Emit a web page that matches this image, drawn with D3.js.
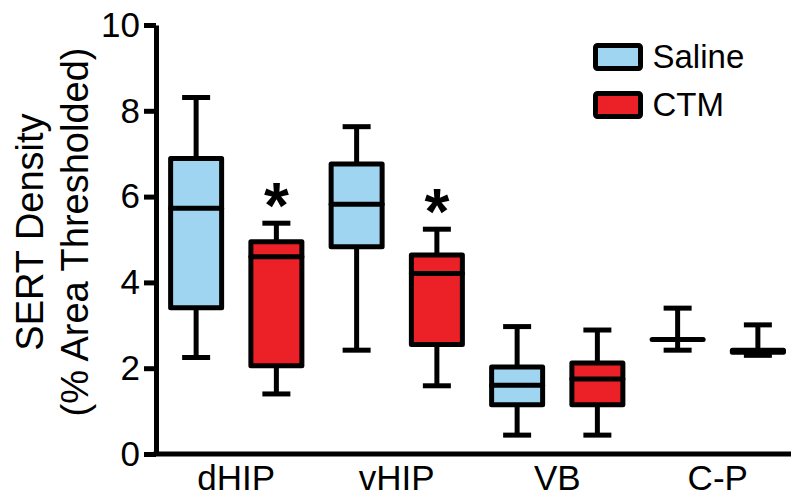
<!DOCTYPE html>
<html>
<head>
<meta charset="utf-8">
<script src="https://cdn.jsdelivr.net/npm/d3@7"></script>
<style>
  html, body { margin: 0; padding: 0; background: #fff; }
  svg { display: block; font-family: "Liberation Sans", Arial, Helvetica, sans-serif; }
</style>
</head>
<body>
<svg id="chart" width="791" height="500"></svg>
<script>
// chart data
const regions = ["dHIP", "vHIP", "VB", "C-P"];
const groups = ["Saline", "CTM"];

const salineMin    = [2.25, 2.42, 0.44, 2.42];
const salineQ1     = [3.41, 4.83, 1.15, 2.67];
const salineMedian = [5.73, 5.82, 1.60, 2.67];
const salineQ3     = [6.89, 6.76, 2.03, 2.67];
const salineMax    = [8.31, 7.63, 2.97, 3.40];

const ctmMin    = [1.40, 1.59, 0.44, 2.30];
const ctmQ1     = [2.06, 2.55, 1.15, 2.37];
const ctmMedian = [4.60, 4.21, 1.75, 2.40];
const ctmQ3     = [4.95, 4.64, 2.12, 2.42];
const ctmMax    = [5.38, 5.24, 2.89, 3.01];

// CTM groups marked with an asterisk
const significant = ["dHIP", "vHIP"];

const yTicks = [0, 2, 4, 6, 8, 10];
const yTitle = ["SERT Density", "(% Area Thresholded)"];

const colors = { Saline: "#a0d5f1", CTM: "#ec2127" };

// build box records from the arrays
const boxes = [];
regions.forEach((r, i) => {
    boxes.push({ region: r, group: "Saline", min: salineMin[i], q1: salineQ1[i], median: salineMedian[i], q3: salineQ3[i], max: salineMax[i] });
    boxes.push({ region: r, group: "CTM", min: ctmMin[i], q1: ctmQ1[i], median: ctmMedian[i], q3: ctmQ3[i], max: ctmMax[i] });
});

const svg = d3.select('#chart');

// scales
const y = d3.scaleLinear().domain([0, 10]).range([454, 25]);
const x = d3.scaleBand().domain(regions).range([156, 798]);
const xSub = d3.scaleBand().domain(groups).range([0, x.bandwidth()]);

const boxWidth = 51;
const capWidth = 28;
const lw = 5;

const cx = d => x(d.region) + xSub(d.group) + xSub.bandwidth() / 2;

// y axis
const yAxis = svg.append('g')
    .attr('transform', 'translate(156,0)')
    .call(d3.axisLeft(y).tickValues(yTicks).tickSize(12).tickSizeOuter(0).tickPadding(4));
yAxis.select('.domain').attr('stroke', '#000').attr('stroke-width', lw);
yAxis.selectAll('.tick line').attr('stroke', '#000').attr('stroke-width', lw);
yAxis.selectAll('.tick text')
    .attr('font-size', 35)
    .attr('font-family', '"Liberation Sans", Arial, sans-serif')
    .attr('fill', '#000');

// x axis line + category labels
svg.append('line')
    .attr('x1', 153.5).attr('x2', 791)
    .attr('y1', y(0)).attr('y2', y(0))
    .attr('stroke', '#000').attr('stroke-width', lw);

svg.append('g').selectAll('text')
    .data(regions)
    .enter()
    .append('text')
    .attr('x', d => x(d) + x.bandwidth() / 2)
    .attr('y', 490)
    .attr('text-anchor', 'middle')
    .attr('font-size', 35)
    .attr('fill', '#000')
    .text(d => d);

// y axis title, two lines
svg.append('g').selectAll('text')
    .data(yTitle)
    .enter()
    .append('text')
    .attr('transform', (d, i) => `translate(${43 + i * 45},232) rotate(-90)`)
    .attr('text-anchor', 'middle')
    .attr('font-size', 38)
    .attr('fill', '#000')
    .text(d => d);

// box plots
const g = svg.append('g').selectAll('g')
    .data(boxes)
    .enter()
    .append('g');

// whisker
g.append('line')
    .attr('x1', cx).attr('x2', cx)
    .attr('y1', d => y(d.min)).attr('y2', d => y(d.max))
    .attr('stroke', '#000').attr('stroke-width', lw);

// caps
['min', 'max'].forEach(k => {
    g.append('line')
        .attr('x1', d => cx(d) - capWidth / 2).attr('x2', d => cx(d) + capWidth / 2)
        .attr('y1', d => y(d[k])).attr('y2', d => y(d[k]))
        .attr('stroke', '#000').attr('stroke-width', lw);
});

// box
g.append('rect')
    .attr('x', d => cx(d) - boxWidth / 2)
    .attr('y', d => y(d.q3))
    .attr('width', boxWidth)
    .attr('height', d => y(d.q1) - y(d.q3))
    .attr('fill', d => colors[d.group])
    .attr('stroke', '#000')
    .attr('stroke-width', lw)
    .attr('stroke-linejoin', 'round');

// median
g.append('line')
    .attr('x1', d => cx(d) - boxWidth / 2).attr('x2', d => cx(d) + boxWidth / 2)
    .attr('y1', d => y(d.median)).attr('y2', d => y(d.median))
    .attr('stroke', '#000').attr('stroke-width', lw)
    .attr('stroke-linecap', 'round');

// significance asterisks
svg.append('g').selectAll('text')
    .data(boxes.filter(d => d.group === 'CTM' && significant.includes(d.region)))
    .enter()
    .append('text')
    .attr('x', cx)
    .attr('y', d => y(d.max) + 5)
    .attr('text-anchor', 'middle')
    .attr('font-size', 64)
    .attr('font-weight', 'bold')
    .attr('fill', '#000')
    .text('*');

// legend
const legend = svg.append('g').selectAll('g')
    .data(groups)
    .enter()
    .append('g')
    .attr('transform', (d, i) => `translate(595.5,${45.5 + i * 48})`);

legend.append('rect')
    .attr('width', 45).attr('height', 23)
    .attr('rx', 2)
    .attr('fill', d => colors[d])
    .attr('stroke', '#000').attr('stroke-width', lw);

legend.append('text')
    .attr('x', 57)
    .attr('y', 22)
    .attr('font-size', 33)
    .attr('fill', '#000')
    .text(d => d);
</script>
</body>
</html>
